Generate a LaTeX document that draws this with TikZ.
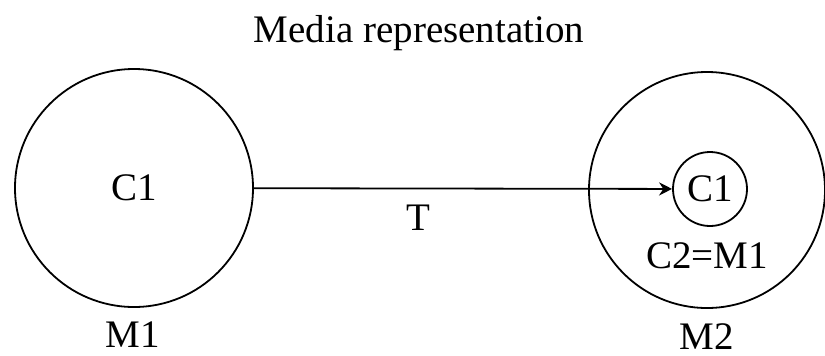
\documentclass[tikz,border=0pt]{standalone}
\usepackage{fontspec}
\setmainfont{Liberation Serif}
\usetikzlibrary{arrows.meta}
\begin{document}
\begin{tikzpicture}[x=0.5pt,y=-0.5pt,
  lbl/.style={font=\fontsize{19.5pt}{22pt}\selectfont, inner sep=0pt},
  ring/.style={draw, circle, line width=0.9pt, inner sep=0pt},
  conn/.style={line width=0.9pt, -{Stealth[length=6.5pt,width=6.5pt]}}]
\useasboundingbox (0,0) rectangle (825,355);
\node[lbl] (title) at (419,33) {Media representation};
\node[ring, minimum size=119pt, lbl] (m1) at (134,188) {C1};
\node[ring, minimum size=118pt] (m2) at (707,190) {};
\node[ring, minimum size=37pt, lbl] (c1) at (710,189) {C1};
\node[lbl] (t) at (418,218) {T};
\node[lbl] (c2) at (707,256) {C2=M1};
\node[lbl, anchor=base] (m1lbl) at (133,347) {M1};
\node[lbl, anchor=base] (m2lbl) at (707,349) {M2};
\draw[conn] (m1) -- (c1);
\end{tikzpicture}
\end{document}
